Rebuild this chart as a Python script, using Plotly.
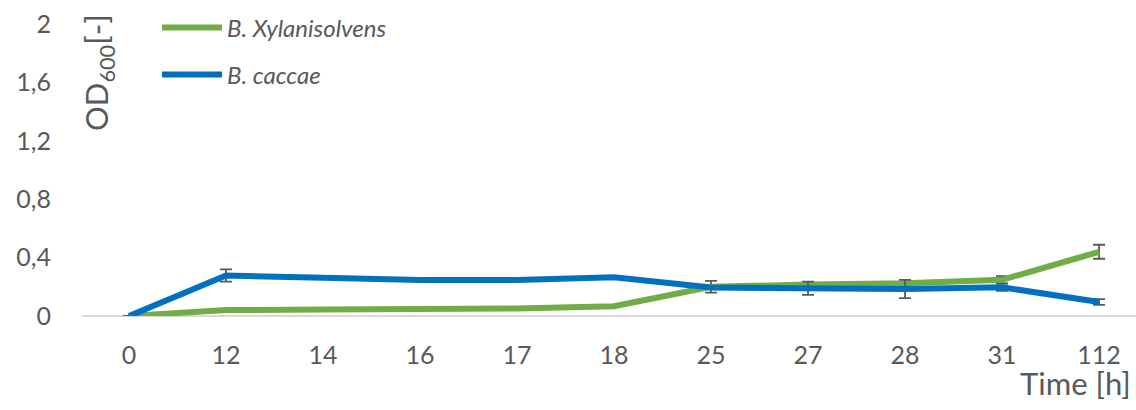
import plotly.graph_objects as go

# Data
time_labels = ["0", "12", "14", "16", "17", "18", "25", "27", "28", "31", "112"]
xylanisolvens = [0, 0.041, 0.044, 0.047, 0.051, 0.067, 0.20, 0.215, 0.224, 0.248, 0.44]
xylanisolvens_err = [0, 0.006, 0, 0.004, 0.005, 0, 0.04, 0.01, 0.01, 0.025, 0.048]
caccae = [0, 0.277, 0.262, 0.247, 0.247, 0.265, 0.195, 0.19, 0.185, 0.197, 0.096]
caccae_err = [0, 0.042, 0, 0.006, 0.005, 0.004, 0.005, 0.045, 0.063, 0.025, 0.02]
y_ticks = [0, 0.4, 0.8, 1.2, 1.6, 2]
y_ticktext = ["0", "0,4", "0,8", "1,2", "1,6", "2"]

idx = list(range(len(time_labels)))
GRAY = "#595959"
FONT = "Lato"
L, T, B = 82, 24, 94
PW, PH = 1136 - L, 410 - T - B

def px_x(px):
    return (px - L) / PW

def px_y(py):
    return (410 - B - py) / PH

fig = go.Figure()
fig.add_trace(go.Scatter(
    x=idx, y=xylanisolvens, mode="lines", name="<i>B. Xylanisolvens</i>",
    line=dict(color="#70AD47", width=6), cliponaxis=False, showlegend=True,
    error_y=dict(type="data", array=xylanisolvens_err, visible=True,
                 color=GRAY, thickness=1.8, width=6),
    legend="legend"))
fig.add_trace(go.Scatter(
    x=idx, y=caccae, mode="lines", name="<i>B. caccae</i>",
    line=dict(color="#0070C0", width=6), cliponaxis=False, showlegend=True,
    error_y=dict(type="data", array=caccae_err, visible=True,
                 color=GRAY, thickness=1.8, width=6),
    legend="legend2"))

leg_common = dict(xanchor="left", yanchor="middle",
                  bgcolor="rgba(0,0,0,0)", font=dict(family=FONT, size=24, color=GRAY),
                  itemwidth=60)

fig.update_layout(
    width=1136, height=410,
    showlegend=True,
    margin=dict(l=L, r=0, t=T, b=B, autoexpand=False),
    plot_bgcolor="white", paper_bgcolor="white",
    font=dict(family=FONT, color=GRAY),
    legend=dict(x=px_x(157), y=px_y(28), visible=True, **leg_common),
    legend2=dict(x=px_x(157), y=px_y(75), visible=True, **leg_common),
    xaxis=dict(range=[-0.4845, 10.381], tickmode="array", tickvals=idx, ticktext=time_labels,
               showgrid=False, zeroline=False, showline=False, ticks="",
               tickfont=dict(family=FONT, size=25, color=GRAY), ticklabelstandoff=22),
    yaxis=dict(range=[0, 2], tickmode="array", tickvals=y_ticks, ticktext=y_ticktext,
               showgrid=False, zeroline=True, zerolinecolor="#D9D9D9", zerolinewidth=2,
               showline=False, ticks="",
               tickfont=dict(family=FONT, size=25, color=GRAY), ticklabelstandoff=30),
    annotations=[
        dict(text="OD<sub>600</sub>[-]", xref="paper", yref="paper",
             x=px_x(98), y=px_y(73), xanchor="center", yanchor="middle", textangle=-90,
             showarrow=False, font=dict(family=FONT, size=31, color=GRAY)),
        dict(text="Time [h]", xref="paper", yref="paper", x=px_x(1133), y=px_y(383),
             xanchor="right", yanchor="middle", showarrow=False,
             font=dict(family=FONT, size=31, color=GRAY)),
    ],
)

fig.write_html("out.html")
